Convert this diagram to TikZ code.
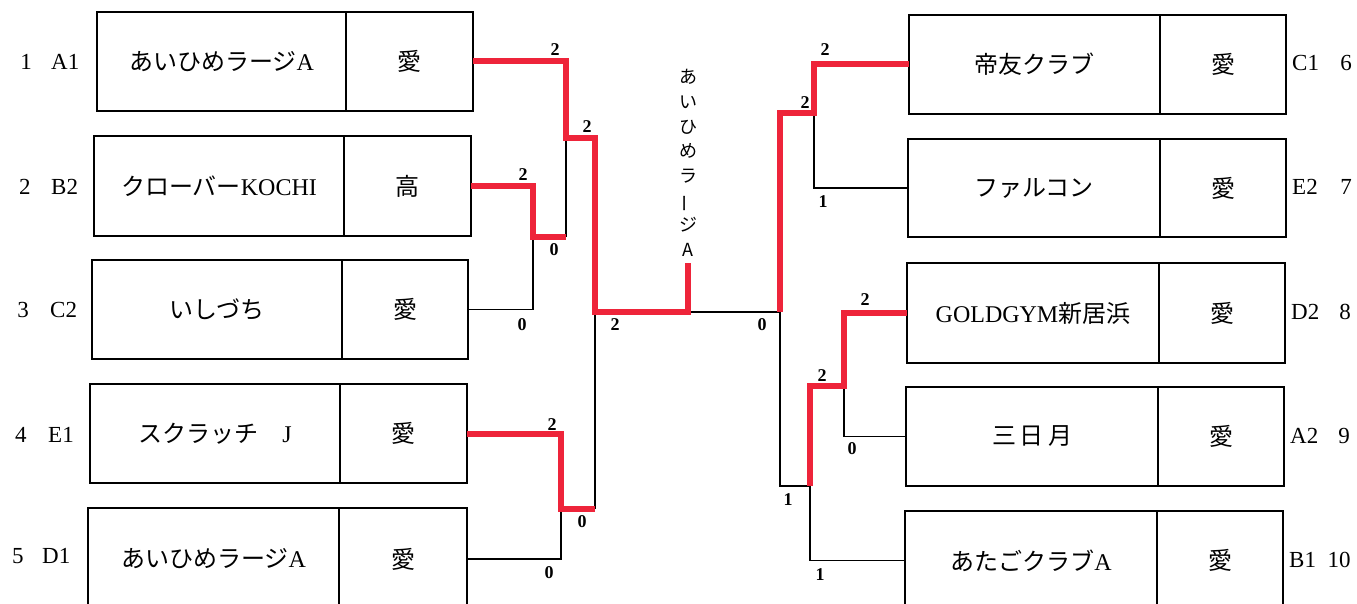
\documentclass[tikz,border=0pt]{standalone}
\usepackage{fontspec}
\setmainfont{Liberation Serif}
\newfontfamily\cjk{Noto Sans CJK JP}
\usepackage{graphicx}
\definecolor{winred}{RGB}{238,36,58}
\begin{document}
\begin{tikzpicture}[x=1pt,y=-1pt,
  box/.style={draw=black, line width=2.2pt, inner sep=0pt, outer sep=0pt, font=\fontsize{24}{28}\selectfont},
  blk/.style={draw=black, line width=1.8pt, line join=miter},
  wln/.style={draw=winred, line width=6pt, line join=miter},
  sc/.style={font=\bfseries\fontsize{18}{18}\selectfont, inner sep=0pt},
  side/.style={font=\fontsize{23}{23}\selectfont, inner sep=0pt},
  vt/.style={font=\cjk\fontsize{18}{24.7}\selectfont, align=center, inner sep=0pt}]
\useasboundingbox (0,0) rectangle (1357,604);
\fill[white] (0,0) rectangle (1357,604);
\clip (0,0) rectangle (1357,604);

% ---------- left boxes ----------
\node[box, minimum width=249pt, minimum height=99pt]  (t1) at (221.5,61.5) {{\cjk あいひめラージ}A};
\node[box, minimum width=127pt, minimum height=99pt]  (p1) at (409.5,61.5) {\cjk 愛};
\node[box, minimum width=250pt, minimum height=100pt] (t2) at (219,186) {{\cjk クローバー}KOCHI};
\node[box, minimum width=127pt, minimum height=100pt] (p2) at (407.5,186) {\cjk 高};
\node[box, minimum width=250pt, minimum height=99pt]  (t3) at (217,309.5) {\cjk いしづち};
\node[box, minimum width=126pt, minimum height=99pt]  (p3) at (405,309.5) {\cjk 愛};
\node[box, minimum width=250pt, minimum height=99pt]  (t4) at (215,433.5) {{\cjk スクラッチ　}J};
\node[box, minimum width=127pt, minimum height=99pt]  (p4) at (403.5,433.5) {\cjk 愛};
\node[box, minimum width=251pt, minimum height=102pt] (t5) at (213.5,559) {{\cjk あいひめラージ}A};
\node[box, minimum width=128pt, minimum height=102pt] (p5) at (403,559) {\cjk 愛};

% ---------- right boxes ----------
\node[box, minimum width=251pt, minimum height=99pt]  (t6) at (1034.5,64.5) {\cjk 帝友クラブ};
\node[box, minimum width=126pt, minimum height=99pt]  (p6) at (1223,64.5) {\cjk 愛};
\node[box, minimum width=252pt, minimum height=98pt]  (t7) at (1034,188) {\cjk ファルコン};
\node[box, minimum width=126pt, minimum height=98pt]  (p7) at (1223,188) {\cjk 愛};
\node[box, minimum width=252pt, minimum height=100pt] (t8) at (1033,313) {GOLDGYM{\cjk 新居浜}};
\node[box, minimum width=126pt, minimum height=100pt] (p8) at (1222,313) {\cjk 愛};
\node[box, minimum width=252pt, minimum height=99pt]  (t9) at (1032,436.5) {\cjk 三\kern4pt 日\kern4pt 月};
\node[box, minimum width=126pt, minimum height=99pt]  (p9) at (1221,436.5) {\cjk 愛};
\node[box, minimum width=252pt, minimum height=99pt]  (t10) at (1031,560.5) {{\cjk あたごクラブ}A};
\node[box, minimum width=126pt, minimum height=99pt]  (p10) at (1220,560.5) {\cjk 愛};

% ---------- side labels ----------
\node[side] (n1) at (26,62) {1};   \node[side, anchor=west] (c1) at (51,62) {A1};
\node[side] (n2) at (25,187) {2};  \node[side, anchor=west] (c2) at (51,187) {B2};
\node[side] (n3) at (23,310) {3};  \node[side, anchor=west] (c3) at (50,310) {C2};
\node[side] (n4) at (21,435) {4};  \node[side, anchor=west] (c4) at (48,435) {E1};
\node[side] (n5) at (18,556) {5};  \node[side, anchor=west] (c5) at (42,556) {D1};

\node[side, anchor=west] (c6) at (1292,63) {C1};   \node[side] (n6) at (1346,63) {6};
\node[side, anchor=west] (c7) at (1292,187) {E2};  \node[side] (n7) at (1346,187) {7};
\node[side, anchor=west] (c8) at (1291,312) {D2};  \node[side] (n8) at (1345,312) {8};
\node[side, anchor=west] (c9) at (1290,436) {A2};  \node[side] (n9) at (1344,436) {9};
\node[side, anchor=west] (c10) at (1289,560) {B1}; \node[side] (n10) at (1339,560) {10};

% ---------- junctions ----------
\coordinate (jA) at (566,138);
\coordinate (jB) at (533,237);
\coordinate (jC) at (595,312);
\coordinate (jD) at (561,509);
\coordinate (jE) at (688,312);
\coordinate (chp) at (688,263);
\coordinate (jF) at (780,312);
\coordinate (jG) at (814,113);
\coordinate (jH) at (810,486);
\coordinate (jI) at (844,386);

% ---------- black lines ----------
\draw[blk] (p3.east) -| (jB);
\draw[blk] (jB -| jA) -- (jA);
\draw[blk] (p5.east) -| (jD);
\draw[blk] (jD -| jC) -- (jC);
\draw[blk] (jE) -- (jF);
\draw[blk] (jG) |- (t7.west);
\draw[blk] (jF) |- (jH);
\draw[blk] (jI) |- (t9.west);
\draw[blk] (jH) |- (t10.west);

% ---------- winner lines ----------
\draw[wln] (p1.east) -| (jA) -- (jA -| jC) -- (jC) -- (jE) -- (chp);
\draw[wln] (p2.east) -| (jB) -- (jB -| jA);
\draw[wln] (p4.east) -| (jD) -- (jD -| jC);
\draw[wln] (jF) |- (jG) |- (t6.west);
\draw[wln] (jH) |- (jI) |- (t8.west);

% ---------- champion ----------
\node[vt] (champ) at (688,163) {あ\\い\\ひ\\め\\ラ\\\rotatebox[origin=c]{90}{ー}\\ジ\\A};

% ---------- scores ----------
\node[sc] (s1) at (555,50) {2};
\node[sc] (s2) at (523,175) {2};
\node[sc] (s3) at (554,250) {0};
\node[sc] (s4) at (522,325) {0};
\node[sc] (s5) at (587,127) {2};
\node[sc] (s6) at (552,425) {2};
\node[sc] (s7) at (582,522) {0};
\node[sc] (s8) at (549,573) {0};
\node[sc] (s9) at (615,325) {2};
\node[sc] (s10) at (762,325) {0};
\node[sc] (s11) at (805,103) {2};
\node[sc] (s12) at (825,50) {2};
\node[sc] (s13) at (823,202) {1};
\node[sc] (s14) at (788,500) {1};
\node[sc] (s15) at (822,376) {2};
\node[sc] (s16) at (865,300) {2};
\node[sc] (s17) at (852,449) {0};
\node[sc] (s18) at (820,575) {1};
\end{tikzpicture}
\end{document}
